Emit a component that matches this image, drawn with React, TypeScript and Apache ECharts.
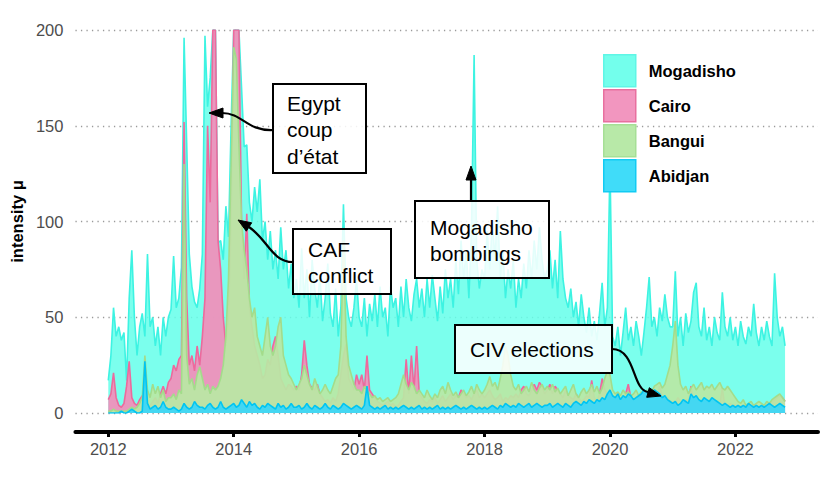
import React, { useEffect, useRef } from "react";
import * as echarts from "echarts";

const seriesNames = ["Mogadisho", "Cairo", "Bangui", "Abidjan"];
const xTickYears = [2012, 2014, 2016, 2018, 2020, 2022];
const startYear = 2012;
const stepsPerYear = 24;

const mogadisho = [
  17, 30, 55, 40, 45, 38, 42, 17, 60, 85, 50, 30, 45, 52, 40, 83, 45, 50, 35, 45, 30, 50, 40, 50,
  54, 82, 55, 60, 76, 196, 141, 83, 66, 58, 55, 65, 83, 197, 160, 175, 200, 200, 89, 90, 80, 108, 92, 150,
  200, 200, 200, 170, 139, 140, 110, 100, 118, 105, 122, 90, 100, 80, 95, 75, 85, 70, 97, 75, 85, 65, 78, 60,
  70, 55, 86, 60, 75, 50, 80, 65, 55, 72, 48, 60, 78, 52, 45, 65, 40, 55, 109, 60, 50, 45, 55, 70,
  50, 45, 60, 40, 57, 48, 62, 45, 66, 50, 55, 40, 66, 55, 60, 45, 66, 50, 70, 55, 48, 62, 70, 55,
  65, 50, 70, 55, 72, 60, 48, 66, 52, 75, 60, 70, 55, 80, 62, 90, 70, 85, 60, 95, 187, 80, 65, 75,
  70, 95, 75, 100, 80, 108, 70, 85, 60, 75, 65, 80, 55, 70, 60, 78, 65, 85, 70, 90, 75, 97, 80, 70,
  75, 85, 65, 80, 60, 95, 70, 60, 55, 65, 50, 58, 45, 62, 50, 42, 55, 40, 48, 38, 52, 68, 45, 55,
  130, 40, 35, 45, 30, 42, 55, 38, 45, 35, 48, 40, 30, 42, 55, 71, 45, 50, 40, 55, 48, 62, 50, 45,
  45, 74, 40, 50, 35, 52, 42, 48, 63, 68, 45, 40, 55, 38, 45, 35, 50, 42, 38, 63, 45, 40, 50, 38,
  45, 35, 48, 40, 36, 45, 40, 57, 42, 35, 45, 38, 48, 40, 35, 73, 50, 40, 45, 35,
];

const cairo = [
  7, 10, 21, 8, 4, 3, 5, 14, 27, 8, 5, 4, 7, 9, 4, 3, 4, 6, 8, 5, 10, 14, 10, 16,
  18, 25, 22, 28, 30, 152, 60, 25, 30, 22, 35, 25, 40, 60, 150, 110, 200, 200, 90, 75, 50, 35, 50, 100,
  200, 200, 200, 100, 70, 104, 55, 45, 35, 30, 25, 18, 20, 28, 25, 35, 40, 30, 18, 15, 12, 15, 14, 12,
  14, 12, 20, 38, 25, 15, 13, 12, 15, 10, 8, 6, 7, 5, 8, 6, 10, 20, 30, 36, 18, 15, 12, 20,
  15, 20, 12, 30, 12, 10, 8, 6, 5, 4, 5, 6, 4, 5, 3, 4, 6, 8, 28, 10, 30, 12, 35, 10,
  8, 6, 5, 7, 6, 8, 5, 7, 9, 6, 8, 10, 7, 9, 8, 12, 10, 8, 9, 7, 10, 12, 8, 10,
  8, 10, 12, 9, 7, 8, 10, 6, 8, 7, 9, 8, 10, 8, 12, 14, 10, 9, 12, 15, 12, 16, 14, 10,
  12, 15, 10, 14, 12, 10, 8, 12, 9, 8, 7, 10, 8, 6, 7, 9, 8, 17, 8, 6, 10, 18, 12, 10,
  10, 8, 7, 9, 6, 8, 10, 15, 8, 7, 6, 8, 5, 6, 7, 8, 6, 10, 8, 14, 9, 7, 8, 6,
  6, 5, 8, 6, 5, 7, 6, 14, 5, 6, 4, 5, 7, 6, 5, 4, 6, 5, 4, 13, 3, 4, 5, 4,
  4, 3, 4, 3, 2, 3, 4, 3, 2, 3, 2, 3, 4, 5, 6, 7, 8, 9, 8, 6,
];

const bangui = [
  1, 1, 2, 1, 1, 1, 1, 1, 2, 3, 2, 3, 5, 8, 30, 12, 8, 15, 10, 14, 8, 12, 6, 8,
  8, 10, 7, 12, 10, 130, 30, 15, 18, 12, 20, 24, 18, 12, 15, 10, 14, 12, 14, 18, 25, 40, 70, 130,
  191, 185, 140, 100, 85, 75, 60, 50, 55, 40, 35, 30, 40, 50, 35, 30, 35, 45, 50, 30, 25, 20, 18, 15,
  12, 15, 18, 25, 20, 15, 12, 18, 14, 10, 12, 15, 12, 10, 14, 18, 20, 35, 90, 40, 25, 20, 15, 12,
  12, 10, 14, 12, 10, 8, 9, 7, 8, 6, 7, 8, 6, 7, 8, 10, 15, 20, 15, 12, 16, 14, 10, 12,
  10, 8, 12, 9, 7, 10, 8, 12, 14, 10, 16, 12, 9, 11, 8, 10, 12, 9, 11, 14, 10, 15, 12, 10,
  12, 15, 19, 14, 16, 12, 18, 25, 35, 30, 20, 14, 12, 15, 10, 12, 14, 11, 16, 12, 10, 13, 15, 12,
  14, 12, 15, 11, 13, 10, 12, 14, 9, 12, 15, 10, 8, 11, 13, 10, 12, 15, 11, 14, 10, 13, 18, 22,
  20, 12, 10, 11, 9, 12, 10, 11, 9, 10, 12, 9, 11, 10, 12, 9, 11, 14, 15, 16, 13, 15, 20, 25,
  35, 48, 25, 15, 12, 14, 10, 13, 15, 12, 14, 16, 12, 14, 13, 15, 12, 14, 16, 13, 12, 14, 12, 10,
  8, 6, 5, 7, 4, 5, 6, 4, 5, 6, 5, 4, 6, 5, 7, 8, 9, 10, 8, 6,
];

const abidjan = [
  0, 0, 0, 0, 0, 1, 0, 0, 1, 2, 1, 0, 0, 1, 27, 5, 2, 3, 4, 2, 3, 6, 3, 2,
  2, 3, 2, 1, 2, 5, 3, 2, 3, 6, 4, 3, 3, 2, 4, 5, 3, 2, 3, 6, 3, 2, 3, 4,
  5, 3, 4, 7, 5, 3, 6, 4, 5, 3, 2, 4, 3, 5, 4, 3, 2, 5, 3, 4, 2, 3, 5, 3,
  3, 4, 2, 3, 5, 3, 2, 4, 3, 2, 3, 5, 3, 2, 4, 3, 2, 3, 5, 4, 3, 2, 3, 4,
  3, 2, 4, 14, 4, 3, 2, 3, 2, 3, 4, 2, 3, 2, 3, 2, 3, 4, 3, 2, 3, 2, 3, 4,
  2, 3, 2, 3, 2, 3, 4, 2, 3, 2, 3, 2, 3, 4, 3, 2, 3, 2, 3, 4, 3, 2, 3, 2,
  3, 2, 3, 4, 3, 2, 4, 3, 5, 4, 3, 4, 3, 5, 4, 3, 4, 5, 3, 4, 5, 4, 3, 4,
  4, 5, 3, 4, 5, 4, 3, 5, 4, 3, 5, 6, 5, 4, 6, 5, 7, 6, 5, 7, 6, 8, 7, 10,
  12, 9, 8, 10, 7, 9, 8, 10, 9, 7, 8, 9, 10, 12, 11, 9, 10, 12, 11, 10, 8, 9, 7, 6,
  5, 6, 4, 5, 7, 6, 5, 10, 8, 9, 7, 6, 8, 7, 6, 8, 7, 6, 5, 4, 5, 4, 3, 4,
  3, 4, 3, 4, 3, 5, 4, 3, 4, 3, 4, 3, 4, 5, 4, 3, 4, 5, 4, 3,
];

const seriesValues = [mogadisho, cairo, bangui, abidjan];

const lineColors = ["#3DF3E2", "#EC6A9D", "#A3DC8B", "#00C5F2"];
const areaColors = [
  "rgba(100,255,234,0.85)",
  "rgba(242,142,186,0.92)",
  "rgba(184,232,164,0.92)",
  "rgba(58,214,248,0.92)",
];
const legendFill = ["#73FFEC", "#F296BF", "#B8E9A8", "#40DCF9"];
const legendBorder = ["#5FF6E6", "#E8709F", "#A6DF96", "#12CBF3"];

const FONT = "Liberation Sans";

export default function App() {
  const ref = useRef<HTMLDivElement>(null);

  useEffect(() => {
    if (!ref.current) return;
    const chart = echarts.init(ref.current, null, { renderer: "svg" });

    const series = seriesNames.map((name, k) => ({
      name,
      type: "line",
      data: seriesValues[k].map((v, i) => [startYear + i / stepsPerYear, v]),
      symbol: "none",
      showSymbol: false,
      lineStyle: { color: lineColors[k], width: 1.6 },
      itemStyle: { color: lineColors[k] },
      areaStyle: { color: areaColors[k], opacity: 1 },
      z: 2 + k,
      clip: true,
    }));

    const box = (x: number, y: number, w: number, h: number) => ({
      type: "rect",
      shape: { x, y, width: w, height: h },
      style: { fill: "rgba(255,255,255,0.86)", stroke: "#000", lineWidth: 2 },
      z: 100,
    });
    const label = (x: number, y: number, text: string, va: string = "top") => ({
      type: "text",
      x,
      y,
      style: {
        text,
        fontSize: 21,
        fontFamily: FONT,
        lineHeight: 26.5,
        fill: "#000",
        verticalAlign: va,
        align: "left",
      },
      z: 101,
    });
    const curve = (x1: number, y1: number, c1x: number, c1y: number, c2x: number, c2y: number, x2: number, y2: number) => ({
      type: "bezierCurve",
      shape: { x1, y1, cpx1: c1x, cpy1: c1y, cpx2: c2x, cpy2: c2y, x2, y2 },
      style: { stroke: "#000", lineWidth: 2.2, fill: null },
      z: 99,
    });
    const head = (pts: number[][]) => ({
      type: "polygon",
      shape: { points: pts },
      style: { fill: "#000", stroke: "#000", lineWidth: 1 },
      z: 99,
    });

    const graphic = [
      curve(273, 130, 246, 131, 243, 113, 222, 113),
      head([[209, 113], [223, 108], [223, 118]]),
      box(273, 84, 93, 89),
      label(287, 90, "Egypt\ncoup\nd’état"),
      curve(293, 262, 272, 262, 268, 240, 249, 227),
      head([[238, 220], [251.7, 222.8], [246.3, 231.2]]),
      box(293, 229, 98, 65),
      label(308, 236, "CAF\nconflict"),
      {
        type: "line",
        shape: { x1: 471, y1: 201, x2: 471, y2: 179 },
        style: { stroke: "#000", lineWidth: 2.2 },
        z: 99,
      },
      head([[471, 166], [466, 180], [476, 180]]),
      box(415, 201, 134, 77),
      label(430, 214, "Mogadisho\nbombings"),
      curve(612, 349, 636, 349, 632, 390, 648, 392),
      head([[661, 396], [646.7, 397.3], [649.3, 387.7]]),
      box(455, 325, 157, 48),
      label(470, 349, "CIV elections", "middle"),
    ];

    chart.setOption({
      animation: false,
      backgroundColor: "#fff",
      textStyle: { fontFamily: FONT },
      grid: { left: 72, right: 12, top: 30, bottom: 78, containLabel: false },
      legend: {
        orient: "vertical",
        left: 603,
        top: 54,
        padding: 0,
        itemWidth: 32,
        itemHeight: 32,
        itemGap: 1.5,
        icon: "rect",
        selectedMode: false,
        textStyle: {
          fontFamily: FONT,
          fontSize: 16.5,
          fontWeight: "bold",
          color: "#000",
          padding: [0, 0, 0, 8],
        },
        data: seriesNames.map((n, k) => ({
          name: n,
          icon: "rect",
          itemStyle: { color: legendFill[k], borderColor: legendBorder[k], borderWidth: 1.5, opacity: 1 },
        })),
        z: 50,
      },
      xAxis: {
        type: "value",
        min: 2011.476,
        max: 2023.317,
        offset: 19,
        axisLine: { show: true, onZero: false, lineStyle: { color: "#000", width: 4 } },
        axisTick: {
          show: true,
          customValues: xTickYears,
          length: 5,
          lineStyle: { color: "#000", width: 3 },
        },
        axisLabel: {
          customValues: xTickYears,
          color: "#4D4D4D",
          fontSize: 16.5,
          fontFamily: FONT,
          margin: 8,
          formatter: (v: number) => String(Math.round(v)),
        },
        splitLine: { show: false },
      },
      yAxis: {
        type: "value",
        min: 0,
        max: 200,
        interval: 50,
        name: "intensity μ",
        nameLocation: "middle",
        nameGap: 44,
        nameTextStyle: { fontFamily: FONT, fontSize: 16.5, fontWeight: "bold", color: "#000" },
        axisLine: { show: false },
        axisTick: { show: false },
        axisLabel: { color: "#4D4D4D", fontSize: 16.5, fontFamily: FONT, margin: 12 },
        splitLine: { show: true, lineStyle: { color: "#9A9A9A", width: 1.3, type: [1.3, 4.2] } },
      },
      series,
      graphic,
    });

    return () => chart.dispose();
  }, []);

  return (
    <div
      ref={ref}
      style={{ position: "fixed", left: 0, top: 0, width: 830, height: 491, background: "#fff" }}
    />
  );
}
